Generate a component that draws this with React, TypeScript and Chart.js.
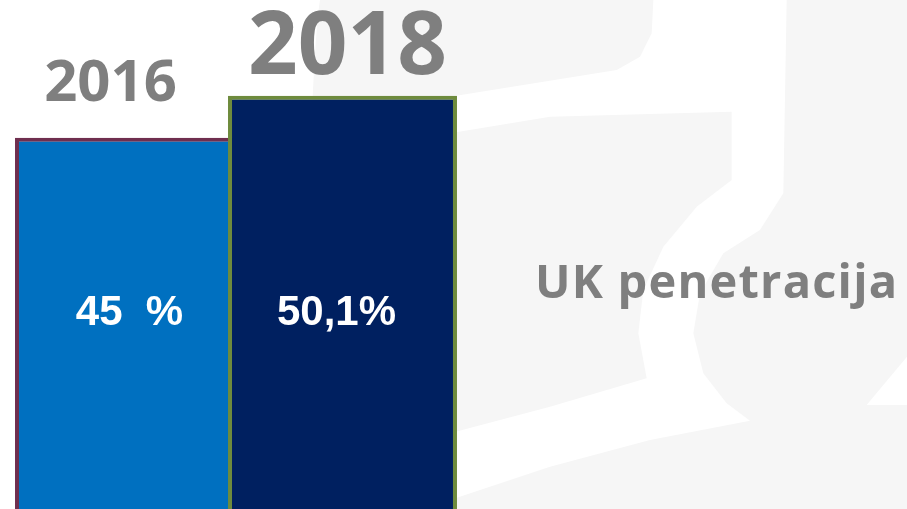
import React, { useEffect, useRef } from "react";
import { Chart, registerables } from "chart.js";

Chart.register(...registerables);

// ---- data ----
const categories = ["2016", "2018"];
const penetration = [45, 50.1];
const valueLabels = ["45  %", "50,1%"];
const seriesTitle = "UK penetracija";

// ---- styles ----
const barColors = ["#0070C0", "#002060"];
const barBorderColors = ["#6F2F4F", "#6E8B3D"];
const yearFontSizes = [58, 87];
const yearDx = [-19, 5];
const yearGap = [37, 22];
const valueDx = [0, -6];
const GRAY_TEXT = "#7F7F7F";
const WATERMARK = "#F6F6F6";

// watermark shapes in a 3x local frame (offset 450,0)
const wmWhite1: number[][] = [
  [610, 0], [1010, 0], [1000, 580], [930, 690], [820, 760], [750, 880], [730, 1000],
  [760, 1120], [830, 1210], [900, 1262], [600, 1320], [300, 1400], [0, 1500], [-600, 1650],
  [-600, 1420], [0, 1300], [300, 1220], [590, 1135], [565, 1000], [580, 870], [640, 740],
  [740, 620], [845, 540], [845, 335], [300, 350], [0, 400], [-600, 500], [-600, 380],
  [0, 290], [500, 210], [570, 170], [605, 100],
];
const wmWhite2: number[][] = [[1250, 1215], [1371, 1070], [1380, 1070], [1380, 1215]];

const bgPlugin = {
  id: "bgWatermark",
  beforeDraw(chart: any) {
    const ctx = chart.ctx as CanvasRenderingContext2D;
    const w = chart.width, h = chart.height;
    ctx.save();
    ctx.fillStyle = "#FFFFFF";
    ctx.fillRect(0, 0, w, h);
    ctx.fillStyle = WATERMARK;
    ctx.beginPath();
    ctx.moveTo(320, 0);
    ctx.lineTo(w, 0);
    ctx.lineTo(w, h);
    ctx.lineTo(300, h);
    ctx.quadraticCurveTo(310, 60, 320, 0);
    ctx.fill();
    const poly = (pts: number[][]) => {
      ctx.beginPath();
      pts.forEach((p, i) => {
        const X = 450 + p[0] / 3, Y = p[1] / 3;
        if (i === 0) ctx.moveTo(X, Y); else ctx.lineTo(X, Y);
      });
      ctx.closePath();
      ctx.fill();
    };
    ctx.fillStyle = "#FFFFFF";
    poly(wmWhite1);
    poly(wmWhite2);
    ctx.restore();
  },
};

const labelPlugin = {
  id: "barLabels",
  afterDatasetsDraw(chart: any) {
    const ctx = chart.ctx as CanvasRenderingContext2D;
    const meta = chart.getDatasetMeta(0);
    const area = chart.chartArea;
    ctx.save();
    meta.data.forEach((el: any, i: number) => {
      ctx.font = `bold ${yearFontSizes[i]}px "Open Sans"`;
      ctx.fillStyle = GRAY_TEXT;
      ctx.textAlign = "center";
      ctx.textBaseline = "alphabetic";
      ctx.fillText(categories[i], el.x + yearDx[i], el.y - yearGap[i]);
      ctx.font = `bold 42px "Liberation Sans", Arial, sans-serif`;
      ctx.fillStyle = "#FFFFFF";
      ctx.fillText(valueLabels[i], el.x + valueDx[i], area.top + area.height * 0.6385);
    });
    ctx.font = `bold 47px "Open Sans"`;
    (ctx as any).letterSpacing = "1.2px";
    ctx.fillStyle = GRAY_TEXT;
    ctx.textAlign = "left";
    ctx.fillText(seriesTitle, area.right + 86, area.top + area.height * 0.5855);
    ctx.restore();
  },
};

export default function App() {
  const ref = useRef<HTMLCanvasElement | null>(null);
  useEffect(() => {
    if (!ref.current) return;
    const chart = new Chart(ref.current, {
      type: "bar",
      data: {
        labels: categories,
        datasets: [
          {
            label: seriesTitle,
            data: penetration,
            backgroundColor: barColors,
            borderColor: barBorderColors,
            borderWidth: 4,
            borderSkipped: "start",
            categoryPercentage: 1,
            barPercentage: 1.075,
            clip: false,
          } as any,
        ],
      },
      options: {
        animation: false,
        responsive: false,
        maintainAspectRatio: false,
        layout: { padding: { left: 23, right: 458, top: 0, bottom: 0 } },
        plugins: { legend: { display: false }, tooltip: { enabled: false }, title: { display: false } },
        scales: {
          x: { display: false, offset: true, grid: { display: false } },
          y: { display: false, min: 0, max: 61.7, grid: { display: false } },
        },
      },
      plugins: [bgPlugin, labelPlugin],
    });
    return () => chart.destroy();
  }, []);
  return (
    <div style={{ position: "absolute", left: 0, top: 0, width: 907, height: 509, overflow: "hidden" }}>
      <canvas ref={ref} width={907} height={509} style={{ width: 907, height: 509, display: "block" }} />
    </div>
  );
}
